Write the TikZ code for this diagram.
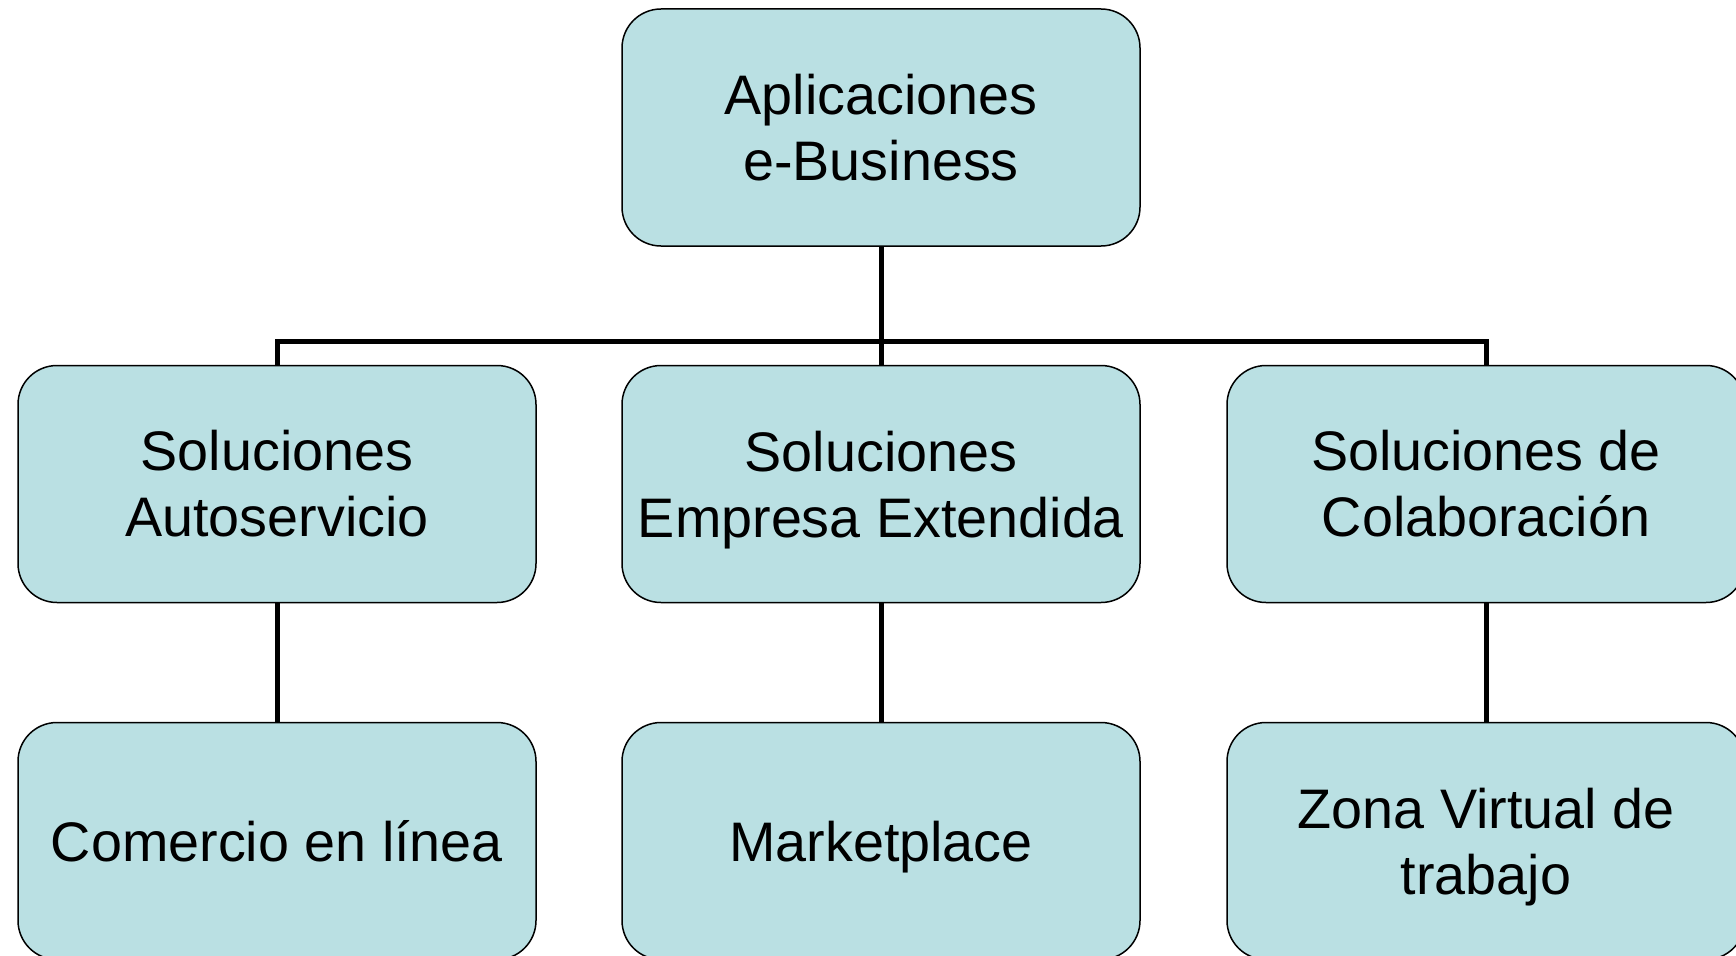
\documentclass[tikz,border=0pt]{standalone}
\usepackage{fontspec}
\setmainfont{Liberation Sans}
\definecolor{boxfill}{RGB}{186,224,227}
\newcommand{\nodep}[1]{\raisebox{0pt}[\height][0pt]{#1}}
\tikzset{
  box/.style={draw=black, line width=1.5pt, fill=boxfill, rounded corners=39pt,
    minimum width=518pt, minimum height=237pt, inner sep=0pt, align=center,
    font=\fontsize{55.7}{66}\selectfont},
  conn/.style={draw=black, line width=5pt}
}
\begin{document}
\begin{tikzpicture}[x=1pt,y=-1pt]
\useasboundingbox (0,0) rectangle (1736,955);
\node[box] (top) at (881,127.5) {Aplicaciones\\ e-Business};
\node[box] (l2) at (277,484) {Soluciones\\Autoservicio};
\node[box] (m2) at (881,484) {Soluciones\\\nodep{Empresa Extendida}};
\node[box] (r2) at (1486,484) {Soluciones de\\Colaboración};
\node[box] (l3) at (277,841) {Comercio en línea};
\node[box] (m3) at (881,841) {\nodep{Marketplace}};
\node[box] (r3) at (1486,841) {Zona Virtual de\\\nodep{trabajo}};
\coordinate (bus) at (881,341);
\draw[conn] (top.south) -- (bus);
\draw[conn] (l2.north) |- (bus) -| (r2.north);
\draw[conn] (bus) -- (m2.north);
\draw[conn] (l2.south) -- (l3.north);
\draw[conn] (m2.south) -- (m3.north);
\draw[conn] (r2.south) -- (r3.north);
\end{tikzpicture}
\end{document}
